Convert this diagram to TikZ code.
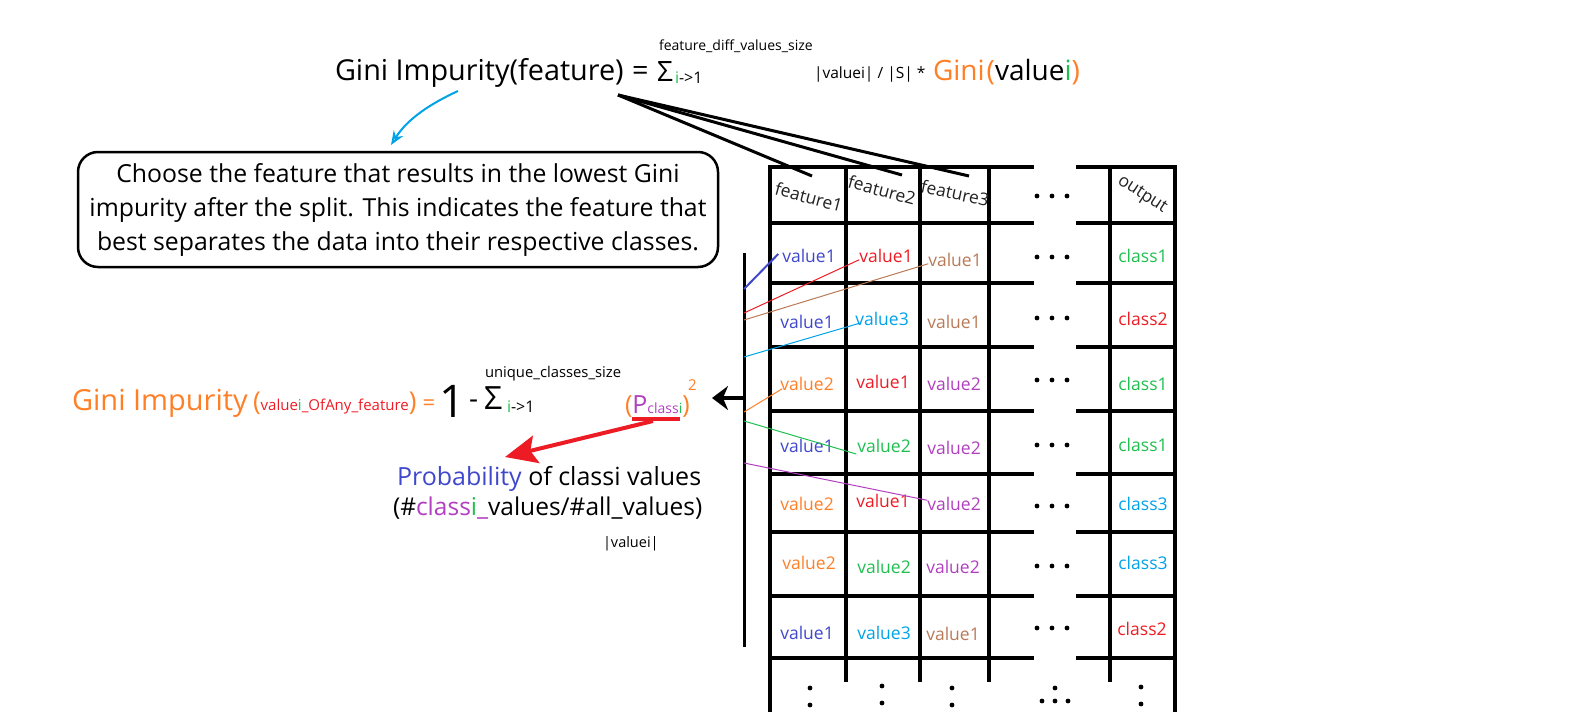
\documentclass[tikz,border=0pt]{standalone}
\usepackage{fontspec}
\setmainfont{Open Sans}
\usetikzlibrary{arrows.meta}
\definecolor{cblue}{HTML}{3F48CC}
\definecolor{cred}{HTML}{ED1C24}
\definecolor{cbrown}{HTML}{B97A57}
\definecolor{clblue}{HTML}{00A2E8}
\definecolor{corange}{HTML}{FF7F27}
\definecolor{cpurple}{HTML}{B13FC0}
\definecolor{cgreen}{HTML}{1FBF4F}
\definecolor{cdark}{HTML}{222222}
\newcommand\setfs[1]{\fontsize{#1}{#1}\selectfont}
\begin{document}
\begin{tikzpicture}[x=1pt,y=-1pt,
  every node/.style={inner sep=0pt, outer sep=0pt},
  txt/.style={anchor=base west},
  val/.style={font=\setfs{17.5}},
  hdr/.style={font=\setfs{17.5}, text=cdark},
  grid/.style={line width=4pt, line cap=rect},
  fan/.style={line width=3pt},
  thin/.style={line width=1pt},
  rowdots/.pic={\fill (-15,0) circle (2.4); \fill (0,0) circle (2.4); \fill (15,0) circle (2.4);},
  coldots/.pic={\fill (0,-8) circle (2.4); \fill (0,9) circle (2.4);}
]
\useasboundingbox (0,0) rectangle (1582,712);

% ---------- top formula ----------
\node[txt, font=\setfs{28.8}] (gtop) at (335,80) {Gini Impurity(feature)};
\node[txt, font=\setfs{28.8}] (eq1) at (632,80) {=};
\node[txt, font=\setfs{28}] (sig1) at (657,81) {Σ};
\node[txt, font=\setfs{16}] (sub1) at (675,83) {\textcolor{cgreen}{i}->1};
\node[txt, font=\setfs{14}] (sup1) at (659,50) {feature\_diff\_values\_size};
\node[txt, font=\setfs{15.5}] (ratio) at (814,78) {|valuei| / |S| *};
\node[txt, font=\setfs{28}] (gval) at (933,80) {\textcolor{corange}{Gini}\kern2pt\textcolor{corange}{(}value\textcolor{cgreen}{i}\textcolor{corange}{)}};

% ---------- explanation box ----------
\node[draw, line width=2.5pt, rounded corners=20pt, minimum width=640pt, minimum height=115pt,
      align=center, font=\fontsize{24.8}{34}\selectfont] (box) at (398,209.5)
  {Choose the feature that results in the lowest Gini\\impurity after the split. This indicates the feature that\\best separates the data into their respective classes.};
\coordinate (bstart) at (458,91);
\coordinate (bend) at (391,145);
\draw[clblue, line width=2pt, -{Stealth[open, length=14pt, width=11pt]}] (bstart) .. controls (432,103) and (408,118) .. (bend);

% ---------- table grid ----------
\foreach \y in {167,223,283,347,411,474,532,596,658} {
  \draw[grid] (770,\y) -- (1032,\y);
  \draw[grid] (1078,\y) -- (1175,\y);
}
\draw[grid] (770,167) -- (770,714);
\draw[grid] (1175,167) -- (1175,714);
\foreach \x in {846,920,989,1110} { \draw[grid] (\x,167) -- (\x,680); }

% header
\node[hdr, rotate=-15] (hf1) at (809,197) {feature1};
\node[hdr, rotate=-15] (hf2) at (882,190) {feature2};
\node[hdr, rotate=-12] (hf3) at (955,193) {feature3};
\node[hdr, rotate=-33] (hout) at (1142,195) {output};

% fan lines
\coordinate (fanpt) at (618,95);
\coordinate (e1) at (812,176);
\coordinate (e2) at (902,175);
\coordinate (e3) at (969,176);
\draw[fan] (fanpt) -- (e1);
\draw[fan] (fanpt) -- (e2);
\draw[fan] (fanpt) -- (e3);

% rows
\node[val, text=cblue]   (r1c1) at (809,256) {value1};
\node[val, text=cred]    (r1c2) at (886,256) {value1};
\node[val, text=cbrown]  (r1c3) at (955,260) {value1};
\node[val, text=cgreen]  (r1c5) at (1143,256) {class1};

\node[val, text=cblue]   (r2c1) at (807,322) {value1};
\node[val, text=clblue]  (r2c2) at (882,319) {value3};
\node[val, text=cbrown]  (r2c3) at (954,322) {value1};
\node[val, text=cred]    (r2c5) at (1143,319) {class2};

\node[val, text=corange] (r3c1) at (807,384) {value2};
\node[val, text=cred]    (r3c2) at (883,382) {value1};
\node[val, text=cpurple] (r3c3) at (954,384) {value2};
\node[val, text=cgreen]  (r3c5) at (1143,384) {class1};

\node[val, text=cblue]   (r4c1) at (807,446) {value1};
\node[val, text=cgreen]  (r4c2) at (884,446) {value2};
\node[val, text=cpurple] (r4c3) at (954,448) {value2};
\node[val, text=cgreen]  (r4c5) at (1143,445) {class1};

\node[val, text=corange] (r5c1) at (807,504) {value2};
\node[val, text=cred]    (r5c2) at (883,501) {value1};
\node[val, text=cpurple] (r5c3) at (954,504) {value2};
\node[val, text=clblue]  (r5c5) at (1143,504) {class3};

\node[val, text=corange] (r6c1) at (809,563) {value2};
\node[val, text=cgreen]  (r6c2) at (884,567) {value2};
\node[val, text=cpurple] (r6c3) at (953,567) {value2};
\node[val, text=clblue]  (r6c5) at (1143,563) {class3};

\node[val, text=cblue]   (r7c1) at (807,633) {value1};
\node[val, text=clblue]  (r7c2) at (884,633) {value3};
\node[val, text=cbrown]  (r7c3) at (953,634) {value1};
\node[val, text=cred]    (r7c5) at (1142,629) {class2};

% ellipses
\foreach \y in {196,257,318,380,445,506,566,628} { \pic at (1052,\y) {rowdots}; }
\pic at (810,696) {coldots};
\pic at (882,694) {coldots};
\pic at (952,696) {coldots};
\pic at (1141,695) {coldots};
\fill (1055,688) circle (2.4);
\fill (1042,701) circle (2.4);
\fill (1055,701) circle (2.4);
\fill (1068,701) circle (2.4);

% vertical collector line
\coordinate (vtop) at (744,253);
\coordinate (vbot) at (744,647);
\draw[line width=3pt] (vtop) -- (vbot);
\coordinate (v1) at (744,289);
\coordinate (v2) at (744,313);
\coordinate (v3) at (744,320);
\coordinate (v4) at (744,357);
\coordinate (v5) at (744,412);
\coordinate (v6) at (744,421);
\coordinate (v7) at (744,463);
\draw[cblue, line width=2pt] (v1) -- ([xshift=-4pt,yshift=2pt]r1c1.west);
\draw[cred, thin] (v2) -- ([yshift=3pt]r1c2.south west);
\draw[cbrown, thin] (v3) -- ([yshift=3pt]r1c3.south west);
\draw[clblue, thin] (v4) -- ([xshift=6pt,yshift=3pt]r2c2.south west);
\draw[corange, thin] (v5) -- ([xshift=2pt,yshift=2pt]r3c1.south west);
\draw[cgreen, thin] (v6) -- ([xshift=-1pt,yshift=-8pt]r4c2.west);
\draw[cpurple, thin] (v7) -- ([yshift=-3pt]r5c3.north west);

% black arrow to left formula
\coordinate (arrs) at (744,398);
\coordinate (arre) at (712,398);
\draw[line width=3.5pt, -{Stealth[length=16pt, width=24pt, inset=5pt]}] (arrs) -- (arre);

% ---------- left formula ----------
\node[txt, font=\setfs{29}, text=corange] (gleft) at (72,410) {Gini Impurity};
\node[txt] (gargs) at (253,410) {{\setfs{26}\textcolor{corange}{(}}{\setfs{15}\textcolor{cred}{value}\textcolor{cgreen}{i}\textcolor{cred}{\_OfAny\_feature}}{\setfs{26}\textcolor{corange}{)}}\kern6pt{\setfs{22}\textcolor{corange}{=}}};
\node[txt, font=\setfs{45}] (one) at (439,417) {1};
\node[txt, font=\setfs{28}] (minus) at (469,408) {-};
\node[txt, font=\setfs{32}] (sig2) at (484,409) {Σ};
\node[txt, font=\setfs{16}] (sub2) at (507,412) {\textcolor{cgreen}{i}->1};
\node[txt, font=\setfs{14.8}] (sup2) at (485,377) {unique\_classes\_size};
\node[txt] (pcl) at (625,413) {{\setfs{25}\textcolor{corange}{(}\textcolor{cpurple}{P}}{\setfs{14}\textcolor{cpurple}{class}\textcolor{cgreen}{i}}{\setfs{25}\textcolor{corange}{)}}};
\node[txt, font=\setfs{15}, text=corange] (sq) at (688,390) {2};
\coordinate (ul1) at (632,419);
\coordinate (ul2) at (680,419);
\draw[cred, line width=4pt] (ul1) -- (ul2);
\coordinate (rs) at (653,421);
\coordinate (re) at (505,457);
\draw[cred, line width=4pt, -{Stealth[length=32pt, width=28pt, inset=6pt]}] (rs) -- (re);

\node[txt, font=\setfs{25}] (prob) at (397,485) {\textcolor{cblue}{Probability} of classi values};
\node[txt, font=\setfs{24.5}] (frac) at (393,515) {(\#\textcolor{cpurple}{class}\textcolor{cgreen}{i}\textcolor{cpurple}{\_}values/\#all\_values)};
\node[txt, font=\setfs{14.5}] (vi) at (603,547) {|valuei|};
\end{tikzpicture}
\end{document}
